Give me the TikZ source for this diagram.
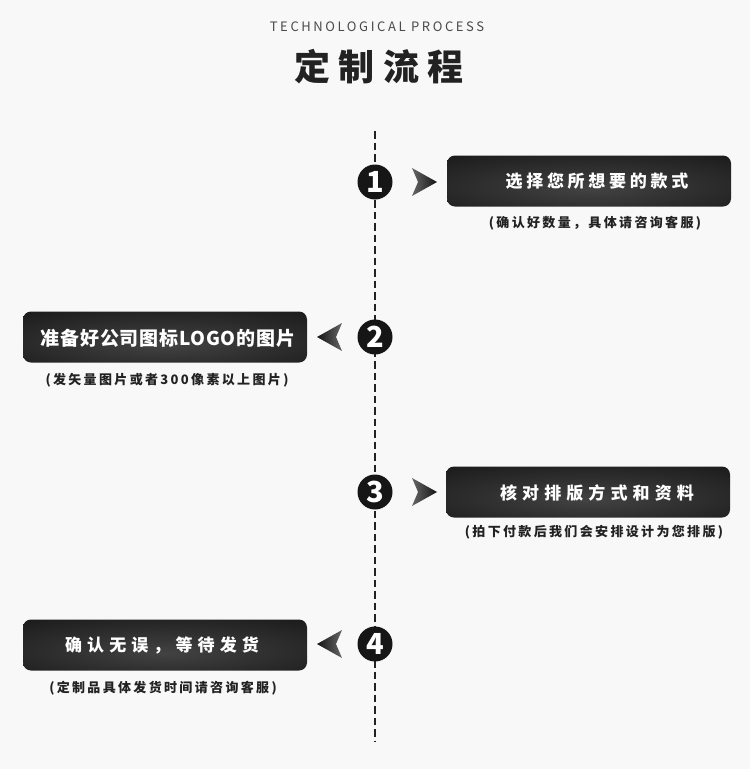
\documentclass[tikz,border=0pt]{standalone}
\usepackage{fontspec}
\setmainfont{Noto Sans CJK SC}
\newfontfamily\myen{Noto Sans CJK SC}[LetterSpace=20]
\newfontfamily\mytitle{Noto Sans CJK SC}[LetterSpace=24]
\newfontfamily\myboxa{Noto Sans CJK SC}[LetterSpace=22]
\newfontfamily\myboxc{Noto Sans CJK SC}[LetterSpace=30]
\newfontfamily\myboxb{Noto Sans CJK SC}[LetterSpace=4]
\newfontfamily\mysub{Noto Sans CJK SC}[LetterSpace=18]
\definecolor{bg}{HTML}{F8F8F8}
\definecolor{txt}{HTML}{222222}
\definecolor{gr}{HTML}{4A4A4A}
\definecolor{circ}{HTML}{161616}
\pgfdeclareradialshading{boxshade}{\pgfpoint{0bp}{-8bp}}{color(0bp)=(black!74); color(50bp)=(black!94); color(75bp)=(black!94)}
\begin{document}
\begin{tikzpicture}[x=1pt,y=-1pt,
  boxst/.style={rounded corners=8pt, minimum width=284pt, minimum height=51pt, inner sep=0pt, shading=boxshade},
  numst/.style={circle, fill=circ, minimum size=35pt, inner sep=0pt, text=white, font=\bfseries\fontsize{29}{30}\selectfont},
  arrR/.style={left color=black!60, right color=black!92},
  arrL/.style={left color=black!92, right color=black!60},
  boxtxt/.style={text=white, inner sep=0pt, font=\bfseries\fontsize{17}{20}\selectfont},
  subtxt/.style={text=txt, inner sep=0pt, font=\mysub\bfseries\fontsize{13}{16}\selectfont},
  timeline/.style={draw=txt, line width=2pt, dash pattern=on 7.5pt off 4pt}
]
\useasboundingbox (0,0) rectangle (750,769);
\fill[bg] (0,0) rectangle (750,769);
\node[text=gr, font=\myen\fontsize{13}{15}\selectfont] (en) at (377,27) {TECHNOLOGICAL PROCESS};
\node[text=txt, font=\mytitle\bfseries\fontsize{36}{40}\selectfont] (title) at (379,67) {定制流程};
\coordinate (top) at (375,131);
\coordinate (bot) at (375,741);
\draw[timeline] (top) -- (bot);
% circles
\node[numst] (c1) at (375,182) {1};
\node[numst] (c2) at (375,337) {2};
\node[numst] (c3) at (375,492) {3};
\node[numst] (c4) at (375,644) {4};
% arrows
\shade[arrR, shift={(c1.center)}] (37,-14) -- (62,0) -- (37,14) -- (43,0) -- cycle;
\shade[arrL, shift={(c2.center)}] (-33,-14) -- (-58,0) -- (-33,14) -- (-39,0) -- cycle;
\shade[arrR, shift={(c3.center)}] (37,-14) -- (62,0) -- (37,14) -- (43,0) -- cycle;
\shade[arrL, shift={(c4.center)}] (-33,-14) -- (-58,0) -- (-33,14) -- (-39,0) -- cycle;
% boxes
\node[boxst] (b1) at (589,181) {};
\node[boxst] (b2) at (165,337) {};
\node[boxst] (b3) at (588,492) {};
\node[boxst] (b4) at (165,645) {};
% box texts
\node[boxtxt, font=\myboxa\bfseries\fontsize{17}{20}\selectfont] (t1) at (597,181) {选择您所想要的款式};
\node[boxtxt, font=\myboxb\bfseries\fontsize{19}{22}\selectfont] (t2) at (168,338) {准备好公司图标LOGO的图片};
\node[boxtxt, font=\myboxc\bfseries\fontsize{17}{20}\selectfont] (t3) at (597,493) {核对排版方式和资料};
\node[boxtxt, font=\myboxc\bfseries\fontsize{17}{20}\selectfont] (t4) at (162,645) {确认无误，等待发货};
% subtitles
\node[subtxt] (s1) at (595,223) {(确认好数量，具体请咨询客服)};
\node[subtxt] (s2) at (167,380) {(发矢量图片或者300像素以上图片)};
\node[subtxt] (s3) at (594,532) {(拍下付款后我们会安排设计为您排版)};
\node[subtxt] (s4) at (163,688) {(定制品具体发货时间请咨询客服)};
\end{tikzpicture}
\end{document}
